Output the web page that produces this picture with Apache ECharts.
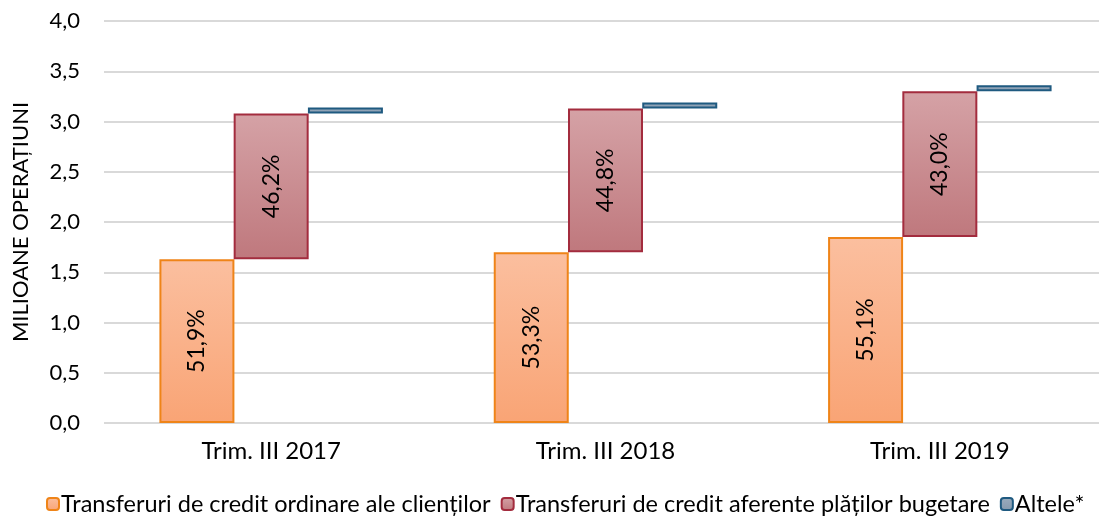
<!DOCTYPE html>
<html>
<head>
<meta charset="utf-8">
<script src="https://cdn.jsdelivr.net/npm/echarts@6/dist/echarts.min.js"></script>
<style>
  html, body { margin: 0; padding: 0; background: #fff; }
  #chart { width: 1099px; height: 523px; }
</style>
</head>
<body>
<div id="chart"></div>
<script>
const categories = ['Trim. III 2017', 'Trim. III 2018', 'Trim. III 2019']
// milioane operatiuni
const ordinare = [1.63, 1.70, 1.85]
const bugetare = [1.45, 1.43, 1.45]
const altele = [0.06, 0.06, 0.06]
const ordinareLabels = ['51,9%', '53,3%', '55,1%']
const bugetareLabels = ['46,2%', '44,8%', '43,0%']
const yTicks = [0, 0.5, 1, 1.5, 2, 2.5, 3, 3.5, 4]

const fontFamily = 'Lato, "Open Sans", sans-serif'

const grad = (top, bottom) => new echarts.graphic.LinearGradient(0, 0, 0, 1, [
  { offset: 0, color: top },
  { offset: 1, color: bottom },
])

const bugetareBase = ordinare.slice()
const altBase = ordinare.map((v, i) => v + bugetare[i])

const chart = echarts.init(document.getElementById('chart'))

const labelStyle = (labels) => ({
  show: true,
  position: 'inside',
  rotate: 90,
  color: '#000',
  fontSize: 23,
  fontFamily: fontFamily,
  formatter: (p) => labels[p.dataIndex],
})

const option = {
  animation: false,
  textStyle: { fontFamily: fontFamily },
  grid: { left: 104, top: 21, width: 1003, height: 402, outerBoundsMode: 'none', containLabel: false },
  legend: {
    bottom: 2,
    left: 41,
    itemWidth: 12,
    itemHeight: 12,
    itemGap: 10,
    textStyle: { fontSize: 23.5, color: '#000', fontFamily: fontFamily, padding: [0, 0, 0, -3] },
    data: [
      'Transferuri de credit ordinare ale clienților',
      'Transferuri de credit aferente plăților bugetare',
      'Altele*',
    ],
  },
  xAxis: {
    type: 'category',
    data: categories,
    axisLine: { show: false },
    axisTick: { show: false },
    axisLabel: { color: '#000', fontSize: 24, margin: 16 },
  },
  yAxis: {
    type: 'value',
    min: 0,
    max: 4,
    interval: 0.5,
    name: 'MILIOANE OPERAȚIUNI',
    nameLocation: 'middle',
    nameGap: 72,
    nameTextStyle: { color: '#000', fontSize: 22 },
    axisLine: { show: false },
    axisTick: { show: false },
    axisLabel: {
      color: '#000',
      fontSize: 22,
      margin: 24,
      formatter: (v) => (yTicks.includes(v) ? v.toFixed(1).replace('.', ',') : ''),
    },
    splitLine: { lineStyle: { color: '#d9d9d9', width: 2 } },
  },
  series: [
    {
      name: 'Transferuri de credit ordinare ale clienților',
      type: 'bar',
      stack: 'a',
      barWidth: 75,
      barGap: '-1%',
      data: ordinare,
      itemStyle: { color: grad('#fbbf9f', '#f9a475'), borderColor: '#ef8418', borderWidth: 2 },
      label: labelStyle(ordinareLabels),
    },
    {
      name: 'baseB',
      type: 'bar',
      stack: 'b',
      barWidth: 75,
      data: bugetareBase,
      itemStyle: { color: 'transparent' },
      silent: true,
    },
    {
      name: 'Transferuri de credit aferente plăților bugetare',
      type: 'bar',
      stack: 'b',
      barWidth: 75,
      data: bugetare,
      itemStyle: { color: grad('#d5a2a6', '#bf787d'), borderColor: '#a32c3e', borderWidth: 2 },
      label: labelStyle(bugetareLabels),
    },
    {
      name: 'baseC',
      type: 'bar',
      stack: 'c',
      barWidth: 75,
      data: altBase,
      itemStyle: { color: 'transparent' },
      silent: true,
    },
    {
      name: 'Altele*',
      type: 'bar',
      stack: 'c',
      barWidth: 75,
      data: altele,
      itemStyle: { color: grad('#9aacbe', '#8599ad'), borderColor: '#1f5a80', borderWidth: 2 },
    },
  ],
}

chart.setOption(option)
</script>
</body>
</html>
